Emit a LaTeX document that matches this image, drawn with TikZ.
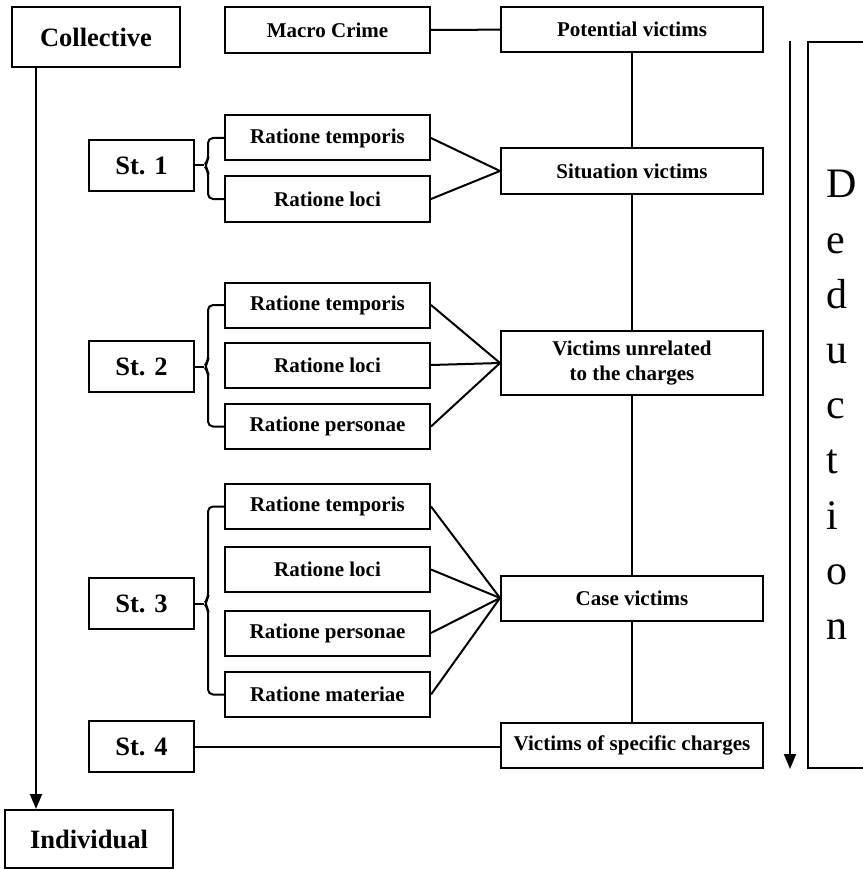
\documentclass[tikz,border=0pt]{standalone}
\usepackage{fontspec}
\setmainfont{Liberation Serif}
\usetikzlibrary{arrows.meta}
\begin{document}
\begin{tikzpicture}[x=1pt,y=-1pt,line width=2pt,
    >={Triangle[length=15pt,width=12pt]},
    box/.style={draw,inner sep=0pt,font=\bfseries\fontsize{21}{25}\selectfont},
    ratio/.style={box,minimum width=205pt,minimum height=45pt},
    vic/.style={box,minimum width=262pt,minimum height=45pt},
    stage/.style={box,font=\bfseries\fontsize{26.5}{30}\selectfont,minimum width=105pt,minimum height=51pt},
    level/.style={box,font=\bfseries\fontsize{26.5}{30}\selectfont,minimum width=168pt,minimum height=60pt}]
    \useasboundingbox (0,0) rectangle (862,869);
    % top row
    \node[level] (coll) at (96,37.5) {Collective};
    \node[ratio,minimum height=46pt] (macro) at (327.5,30) {Macro Crime};
    \node[vic] (pot) at (632,29.5) {Potential victims};
    \node[level,minimum height=58pt] (indiv) at (89,839) {Individual};
    % stage 1
    \node[stage] (st1) at (141.5,165.5) {St. 1};
    \node[ratio] (rt1) at (327.5,138) {Ratione temporis};
    \node[ratio] (rl1) at (327.5,199) {Ratione loci};
    \node[vic] (sit) at (632,171) {Situation victims};
    % stage 2
    \node[stage] (st2) at (141.5,366.5) {St. 2};
    \node[ratio] (rt2) at (327.5,305) {Ratione temporis};
    \node[ratio] (rl2) at (327.5,365) {Ratione loci};
    \node[ratio] (rp2) at (327.5,426.5) {Ratione personae};
    \node[vic,minimum height=64pt,align=center] (unrel) at (632,363) {Victims unrelated\\to the charges};
    % stage 3
    \node[stage] (st3) at (141.5,603.5) {St. 3};
    \node[ratio] (rt3) at (327.5,506.5) {Ratione temporis};
    \node[ratio] (rl3) at (327.5,569.5) {Ratione loci};
    \node[ratio] (rp3) at (327.5,633) {Ratione personae};
    \node[ratio] (rm3) at (327.5,694.5) {Ratione materiae};
    \node[vic] (case) at (632,598) {Case victims};
    % stage 4
    \node[stage] (st4) at (141.5,746.5) {St. 4};
    \node[vic] (spec) at (632,745.5) {Victims of specific charges};
    % deduction
    \node[draw,anchor=north west,inner xsep=18pt,inner ysep=0pt,text width=40pt,
          minimum height=726pt,align=left,font=\fontsize{42}{55.2}\selectfont]
          (ded) at (807,41) {D\\e\\d\\u\\c\\t\\i\\o\\n};
    \draw[->] ([xshift=-17pt]ded.north west) -- ([xshift=-17pt]ded.south west);

    \draw[->] ([xshift=25pt]coll.south west) -- ([xshift=25pt]coll.south west |- indiv.north);
    \draw (macro) -- (pot);
    \draw (pot) -- (sit) -- (unrel) -- (case) -- (spec);
    \draw (st4) -- (st4 -| spec.west);

    % braces
    \coordinate (b1) at ([xshift=-20pt]rt1.west |- st1.east);
    \coordinate (b2) at ([xshift=-20pt]rt2.west |- st2.east);
    \coordinate (b3) at ([xshift=-20pt]rt3.west |- st3.east);
    \draw[rounded corners=5pt] (rt1.west) -| ([xshift=4pt,yshift=5pt]b1) -- (b1)
        -- ([xshift=4pt,yshift=-5pt]b1) |- (rl1.west);
    \draw[rounded corners=5pt] (rt2.west) -| ([xshift=4pt,yshift=5pt]b2) -- (b2)
        -- ([xshift=4pt,yshift=-5pt]b2) |- (rp2.west);
    \draw[rounded corners=5pt] (rt3.west) -| ([xshift=4pt,yshift=5pt]b3) -- (b3)
        -- ([xshift=4pt,yshift=-5pt]b3) |- (rm3.west);
    \draw (st1.east) -- (b1);
    \draw (st2.east) -- (b2);
    \draw (st3.east) -- (b3);

    % criteria to victims
    \draw (rt1.east) -- (sit.west);
    \draw (rl1.east) -- (sit.west);
    \draw (rt2.east) -- (unrel.west);
    \draw (rl2.east) -- (unrel.west);
    \draw (rp2.east) -- (unrel.west);
    \draw (rt3.east) -- (case.west);
    \draw (rl3.east) -- (case.west);
    \draw (rp3.east) -- (case.west);
    \draw (rm3.east) -- (case.west);
\end{tikzpicture}
\end{document}
